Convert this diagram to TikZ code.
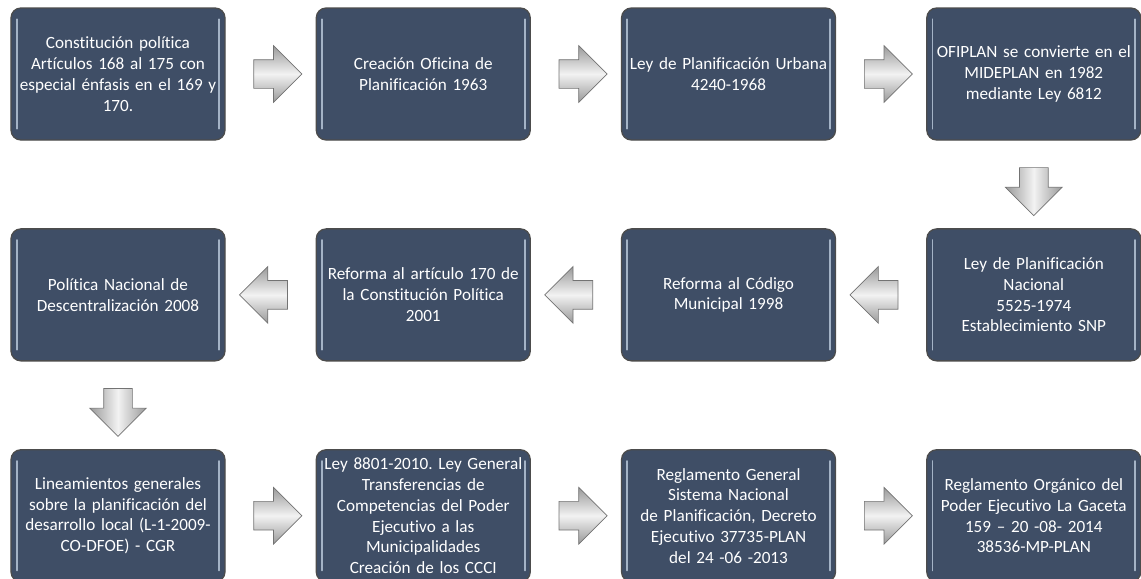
\documentclass[tikz,border=0pt]{standalone}
\usepackage{fontspec}
\setmainfont{Carlito}[Ligatures=NoCommon]
\usepackage{xcolor}
\usetikzlibrary{positioning,shapes.arrows,calc}
\definecolor{slate}{HTML}{3F4E66}
\definecolor{rim}{HTML}{A4B3C6}
\frenchspacing
\tikzset{
    plan box/.style={
        draw=black!70,
        line width=0.9pt,
        rounded corners=7pt,
        fill=slate,
        text=white,
        minimum width=5.35cm,
        minimum height=3.3cm,
        text width=5.2cm,
        align=center,
        font=\fontsize{12.2}{14.8}\selectfont,
        inner sep=2pt,
        path picture={
            \draw[rim, line width=1.3pt, line cap=round]
                ($(path picture bounding box.north west)+(4pt,-8pt)$) -- ($(path picture bounding box.south west)+(4pt,8pt)$)
                ($(path picture bounding box.north east)+(-4pt,-8pt)$) -- ($(path picture bounding box.south east)+(-4pt,8pt)$);
        }
    },
    plan arrow/.style={
        single arrow,
        draw=black!55,
        line width=0.5pt,
        top color=black!40,
        bottom color=black!40,
        middle color=black!5,
        minimum height=1.2cm,
        single arrow head extend=0.35cm,
        inner xsep=0pt,
        inner ysep=0.35cm
    },
    plan arrow down/.style={plan arrow, shape border rotate=270, shading angle=90, inner xsep=0.35cm, inner ysep=0pt}
}

\begin{document}
\begin{tikzpicture}[
    node distance=2.19cm and 2.25cm,
]
\useasboundingbox (0,0) rectangle (28.525,-14.45);
% Row 1
\node[plan box] (b1) at (2.95,-1.85) {Constitución política\\Artículos 168 al 175 con\\especial énfasis en el 169 y\\170.};
\node[plan box, right=of b1] (b2) {Creación Oficina de\\Planificación 1963};
\node[plan box, right=of b2] (b3) {Ley de Planificación Urbana\\4240-1968};
\node[plan box, right=of b3] (b4) {OFIPLAN se convierte en el\\MIDEPLAN en 1982\\mediante Ley 6812};

% Row 2
\node[plan box, below=of b4] (b5) {Ley de Planificación\\Nacional\\5525-1974\\Establecimiento SNP};
\node[plan box, left=of b5] (b6) {Reforma al Código\\Municipal 1998};
\node[plan box, left=of b6] (b7) {Reforma al artículo 170 de\\la Constitución Política\\2001};
\node[plan box, left=of b7] (b8) {Política Nacional de\\Descentralización 2008};

% Row 3
\node[plan box, below=of b8] (b9) {Lineamientos generales\\sobre la planificación del\\desarrollo local (L-1-2009-\\CO-DFOE) - CGR};
\node[plan box, right=of b9] (b10) {Ley 8801-2010. Ley General\\Transferencias de\\Competencias del Poder\\Ejecutivo a las\\Municipalidades\\Creación de los CCCI};
\node[plan box, right=of b10] (b11) {Reglamento General\\Sistema Nacional\\de Planificación, Decreto\\Ejecutivo 37735-PLAN\\del 24 -06 -2013};
\node[plan box, right=of b11] (b12) {Reglamento Orgánico del\\Poder Ejecutivo La Gaceta\\159 – 20 -08- 2014\\38536-MP-PLAN};

% Arrows
\node[plan arrow] (a12) at ($(b1.east)!0.5!(b2.west)$) {};
\node[plan arrow] (a23) at ($(b2.east)!0.5!(b3.west)$) {};
\node[plan arrow] (a34) at ($(b3.east)!0.5!(b4.west)$) {};
\node[plan arrow down] (a45) at ($(b4.south)!0.5!(b5.north)$) {};
\node[plan arrow, shape border rotate=180] (a56) at ($(b5.west)!0.5!(b6.east)$) {};
\node[plan arrow, shape border rotate=180] (a67) at ($(b6.west)!0.5!(b7.east)$) {};
\node[plan arrow, shape border rotate=180] (a78) at ($(b7.west)!0.5!(b8.east)$) {};
\node[plan arrow down] (a89) at ($(b8.south)!0.5!(b9.north)$) {};
\node[plan arrow] (a910) at ($(b9.east)!0.5!(b10.west)$) {};
\node[plan arrow] (a1011) at ($(b10.east)!0.5!(b11.west)$) {};
\node[plan arrow] (a1112) at ($(b11.east)!0.5!(b12.west)$) {};
\end{tikzpicture}
\end{document}
